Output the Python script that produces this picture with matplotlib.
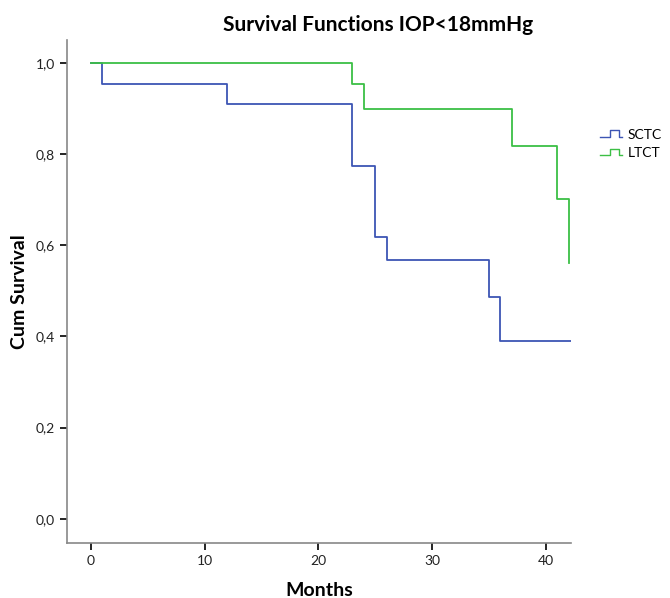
import matplotlib
matplotlib.use("Agg")
import matplotlib.pyplot as plt
from matplotlib.legend_handler import HandlerBase
from matplotlib.lines import Line2D

plt.rcParams['font.family'] = ['Lato', 'DejaVu Sans']

# Data: step times (months) and survival after each step
sctc_times = [0, 1, 12, 23, 25, 26, 35, 36, 42.2]
sctc_surv = [1.0, 0.954, 0.910, 0.774, 0.618, 0.568, 0.487, 0.390, 0.390]
ltct_times = [0, 23, 24, 37, 41, 42, 42]
ltct_surv = [1.0, 0.954, 0.899, 0.818, 0.702, 0.561, 0.561]
series_names = ["SCTC", "LTCT"]
xticks = [0, 10, 20, 30, 40]
yticks = [0.0, 0.2, 0.4, 0.6, 0.8, 1.0]
ytick_labels = ["0,0", "0,2", "0,4", "0,6", "0,8", "1,0"]

blue = "#3d55b4"
green = "#3cbf45"


class StepHandler(HandlerBase):
    def create_artists(self, legend, orig_handle, xdescent, ydescent,
                       width, height, fontsize, trans):
        x0 = -xdescent
        y0 = -ydescent
        xs = [x0, x0 + width * 0.45, x0 + width * 0.45, x0 + width * 0.85,
              x0 + width * 0.85, x0 + width]
        yl = y0 + height * 0.15
        yh = y0 + height * 0.85
        ys = [yl, yl, yh, yh, yl, yl]
        ln = Line2D(xs, ys, color=orig_handle.get_color(), lw=1.0,
                    transform=trans)
        return [ln]


fig = plt.figure(figsize=(6.7, 5.98), dpi=100)
ax = fig.add_axes([0.1, 0.092, 0.752, 0.841])

l1, = ax.step(sctc_times, sctc_surv, where="post", color=blue, lw=1.3,
              label=series_names[0])
l2, = ax.step(ltct_times, ltct_surv, where="post", color=green, lw=1.3,
              label=series_names[1])

ax.set_xlim(-2.1, 42.2)
ax.set_ylim(-0.053, 1.05)
ax.set_xticks(xticks)
ax.set_yticks(yticks)
ax.set_yticklabels(ytick_labels)
ax.tick_params(axis="both", direction="out", length=5, width=1.2,
               color="black", labelsize=10, labelcolor="#222222")
for s in ["top", "right"]:
    ax.spines[s].set_visible(False)
for s in ["left", "bottom"]:
    ax.spines[s].set_color("#888888")
    ax.spines[s].set_linewidth(1.2)

ax.set_xlabel("Months", fontsize=14, fontweight="bold")
ax.xaxis.set_label_coords(0.5, -0.077)
ax.set_ylabel("Cum Survival", fontsize=14, fontweight="bold")
ax.yaxis.set_label_coords(-0.077, 0.5)
fig.text(0.565, 0.958, "Survival Functions IOP<18mmHg", fontsize=15,
         fontweight="bold", ha="center", va="center")

fig.legend(handles=[l1, l2], labels=series_names,
           handler_map={Line2D: StepHandler()},
           loc="upper left", bbox_to_anchor=(0.895, 0.785), frameon=False,
           fontsize=10, handlelength=1.6, handletextpad=0.4, labelspacing=0.45,
           borderaxespad=0, borderpad=0)

fig.savefig("out.png", dpi=100)
